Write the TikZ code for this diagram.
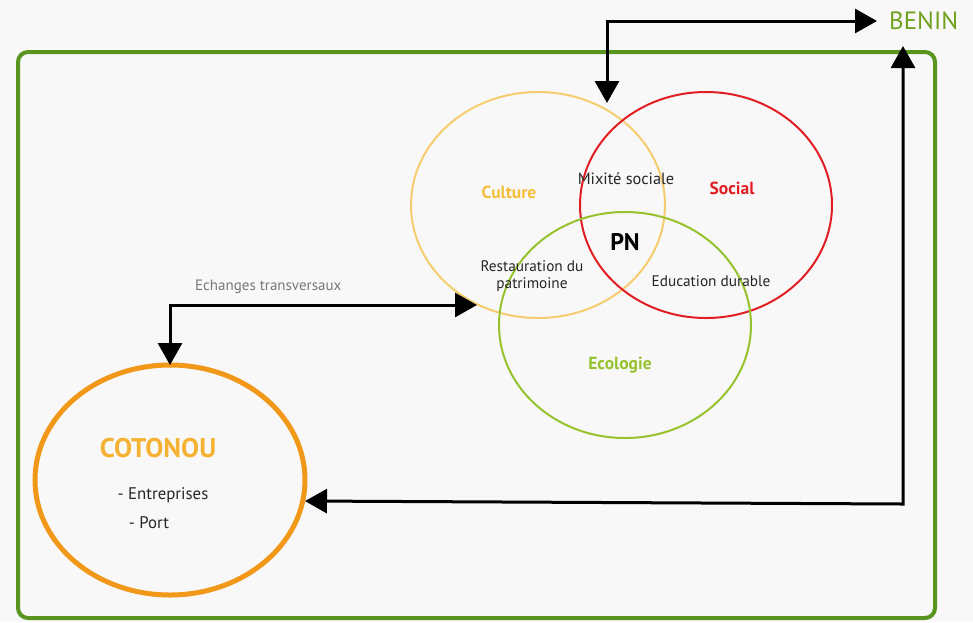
\documentclass[tikz,border=0pt]{standalone}
\usepackage{fontspec}
\setmainfont{PT Sans}
\usetikzlibrary{shapes.geometric,arrows.meta}
\definecolor{bgc}{RGB}{248,248,248}
\definecolor{frameg}{RGB}{88,148,30}
\definecolor{beninc}{RGB}{112,160,30}
\definecolor{culturec}{RGB}{246,205,110}
\definecolor{culturet}{RGB}{245,190,60}
\definecolor{socialc}{RGB}{225,30,35}
\definecolor{ecoc}{RGB}{150,195,45}
\definecolor{cotoc}{RGB}{242,152,25}
\definecolor{cotot}{RGB}{245,178,50}
\definecolor{grayt}{RGB}{120,120,120}
\tikzset{
  ring/.style={ellipse, draw, line width=2pt, inner sep=0pt, outer sep=0pt},
  bodytxt/.style={font=\fontsize{15.3}{17.5}\selectfont, text=black!85, align=center, inner sep=0pt},
  labtxt/.style={font=\fontsize{17.5}{19}\selectfont\bfseries, inner sep=0pt},
  conn/.style={line width=3pt, {Triangle[length=22pt,width=24pt]}-{Triangle[length=22pt,width=24pt]}},
}
\begin{document}
\begin{tikzpicture}[x=1pt,y=-1pt]
\useasboundingbox (0,0) rectangle (973,622);
\fill[bgc] (0,0) rectangle (973,622);
\draw[frameg, line width=4pt, rounded corners=10pt] (18,52) rectangle (935,618);

% Venn circles
\node[ring, draw=culturec, minimum width=254pt, minimum height=226pt] (culture) at (538,205) {};
\node[ring, draw=socialc, minimum width=252pt, minimum height=226pt] (social) at (706,205) {};
\node[ring, draw=ecoc, minimum width=252pt, minimum height=226pt] (eco) at (625,325) {};

% Cotonou
\node[ring, draw=cotoc, line width=5pt, minimum width=270pt, minimum height=230pt] (coto) at (170,480) {};

% Texts
\node[labtxt, text=culturet] (tcult) at (509,192) {Culture};
\node[labtxt, text=socialc] (tsoc) at (732,188) {Social};
\node[labtxt, text=ecoc] (teco) at (620,365) {Ecologie};
\node[bodytxt, font=\fontsize{16.3}{18}\selectfont] (tmix) at (626,179) {Mixité sociale};
\node[font=\fontsize{24}{26}\selectfont\bfseries, inner sep=0pt] (tpn) at (625,242) {PN};
\node[bodytxt] (trest) at (532,276) {Restauration du\\patrimoine};
\node[bodytxt] (tedu) at (711,281) {Education durable};
\node[font=\fontsize{27}{29}\selectfont\bfseries, text=cotot, inner sep=0pt] (tcoto) at (158,448) {COTONOU};
\node[bodytxt, font=\fontsize{16.8}{19}\selectfont] (tent) at (163,495) {- Entreprises};
\node[bodytxt, font=\fontsize{16.8}{19}\selectfont] (tport) at (149,523) {- Port};
\node[font=\fontsize{25}{27}\selectfont, text=beninc, inner sep=0pt, anchor=west] (benin) at (889,21) {BENIN};

% connector end points
\coordinate (pntop) at (607,103);
\coordinate (bnleft) at ([xshift=-12pt]benin.west);
\coordinate (bntip) at (903,46);
\coordinate (cotoE) at (305,501);
\coordinate (cultW) at (477,305);

% Connectors
\draw[conn] (pntop) |- (bnleft);
\draw[conn] (cotoE) -- (903,504) -- (bntip);
\draw[conn] (coto.north) |- (cultW) node[pos=0.66, above=6pt, font=\fontsize{15}{17}\selectfont, text=grayt] (tech) {Echanges transversaux};
\end{tikzpicture}
\end{document}
